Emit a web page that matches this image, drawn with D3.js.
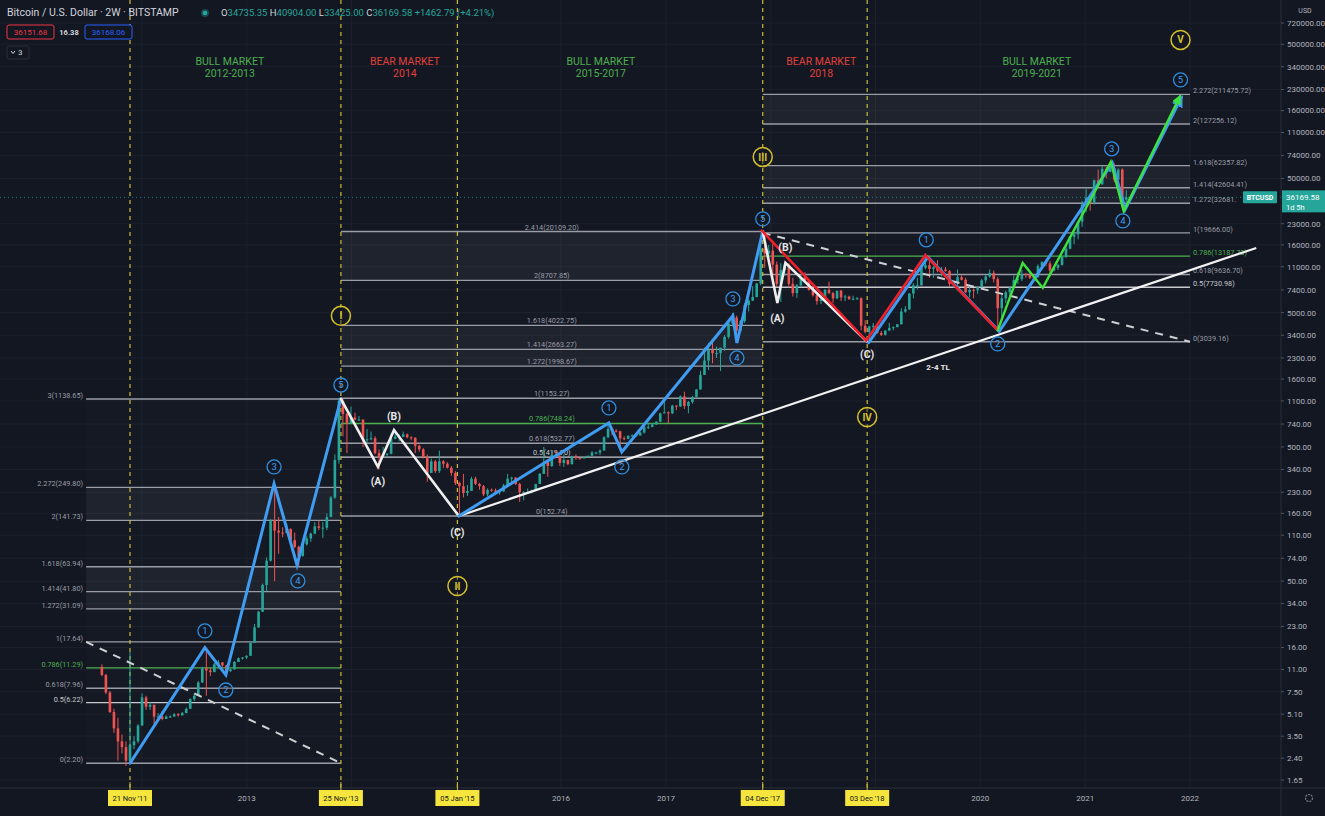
<!DOCTYPE html>
<html><head><meta charset="utf-8">
<script src="https://cdn.jsdelivr.net/npm/d3@7"></script>
<style>
html,body{margin:0;padding:0;background:#131722;}
svg{display:block;font-family:Roboto,"Open Sans",sans-serif;}
</style></head><body>
<svg id="c" width="1325" height="816"></svg>
<script>
// ---------------- DATA ----------------
const barStart = "2011-08-15";   // first 2W bar
const barStepDays = 14;
const firstOpen = 11.5;
const highs = [12.0,10.2,7.6,5.6,4.8,3.6,3.2,14.8,3.5,4.3,
 7.3,7.0,6.3,6.0,5.2,5.4,5.0,5.0,5.2,5.2,
 5.3,5.7,6.7,7.3,9.0,11.5,16.0,11.3,12.3,12.9,
 12.5,11.9,11.2,12.7,13.5,13.6,14.0,17.5,24,30,
 48,75,145,266,150,126,135,124,115,92,
 98,108,115,138,140,138,160,215,440,1163,
 1150,900,1000,900,850,800,680,650,600,480,
 500,450,630,670,620,650,630,600,590,520,
 490,440,410,400,470,400,385,360,330,275,
 315,260,300,300,270,260,245,245,245,235,
 265,315,300,298,270,235,245,240,265,320,
 500,390,465,470,460,440,400,430,440,420,
 425,430,465,460,480,600,760,700,680,660,
 600,610,620,615,645,725,740,755,780,900,
 1150,920,1030,1020,1210,1290,1100,1200,1350,1850,
 2750,2980,3000,2800,2650,3400,4400,4980,4750,4400,
 5900,6300,7900,8300,17200,19666,16000,17200,12000,11700,
 11500,11700,9100,8200,9700,10000,8900,7800,6800,6800,
 7500,8500,7150,7200,7400,6800,6700,6700,6550,6500,
 4400,4000,4200,4100,3650,3700,4200,3950,4100,5400,
 5600,7000,8300,9100,11000,13880,13200,11100,12300,10950,
 10950,10400,8600,10500,9500,9100,7900,7600,7700,8900,
 9600,10500,10300,9200,7000,7300,7800,9450,10000,10400,
 9900,9800,9450,11450,12100,12450,12100,11200,11600,13200,
 15900,18500,19900,24000,34000,42000,38000,49000,58300,61800,
 61000,60200,64900,59500,59500,40904.00];
const lows = [9.8,7.2,5.2,3.7,2.3,2.6,2.1,2.2,2.8,3.1,
 4.2,5.5,5.5,4.3,4.7,4.6,4.7,4.8,4.9,4.9,
 5.0,5.2,5.6,6.4,7.0,8.7,7.0,9.8,10.5,11.9,
 11.5,10.2,10.5,11.0,12.5,13.0,13.2,13.9,17.3,22.5,
 29.5,42,70,50,80,106,115,98,88,65,
 76,92,98,112,120,105,120,150,205,375,
 600,450,740,790,780,500,530,560,440,340,
 420,420,440,570,550,590,580,560,450,460,
 410,275,320,320,320,350,345,305,260,152,
 210,215,235,260,240,215,215,232,228,220,
 232,252,270,260,195,200,225,225,235,265,
 315,300,355,410,360,355,365,370,400,400,
 410,415,430,440,435,470,580,610,640,470,
 560,570,595,595,605,630,680,700,730,770,
 890,750,880,940,995,960,890,1050,1170,1340,
 1720,1870,2100,2300,1840,2600,3200,3950,2980,3600,
 4200,5100,6100,6500,8000,10800,12500,9200,7800,6000,
 9400,7700,6600,6450,7900,8700,7300,6600,5750,5800,
 6100,6900,5900,6300,6100,6100,6250,6200,6250,3700,
 3500,3150,3550,3480,3350,3370,3650,3700,3900,4100,
 5000,5250,6400,7450,7950,10500,9100,9100,10000,9350,
 10100,7800,7700,7300,8700,7000,6500,6400,6900,7700,
 8250,9100,8400,3850,4450,5900,6500,7600,8200,8600,
 9100,8900,9000,9100,10950,11100,9850,10150,10400,11200,
 12800,14800,16200,17600,21800,28000,28800,32000,45000,45000,
 50300,55800,47000,48800,30000,33425.00];
const closes = [10.0,7.4,5.3,4.0,3.2,2.9,2.3,3.0,3.2,4.2,
 6.8,5.8,6.0,4.9,4.9,4.7,4.9,4.9,5.1,5.0,
 5.2,5.6,6.6,7.0,8.8,11.2,10.8,10.5,12.0,12.4,
 11.8,10.7,11.0,12.5,13.3,13.5,13.9,17.4,22.6,29.6,
 46.8,71,142,119,115,114,122,101,90,77,
 94,104,113,128,125,125,150,210,400,1100,
 880,750,830,800,800,560,570,580,450,420,
 445,445,575,595,595,620,590,585,510,480,
 420,320,390,330,390,375,350,320,270,255,
 227,235,290,265,255,222,240,237,230,233,
 258,290,295,265,230,230,230,237,265,315,
 385,360,435,425,380,400,372,425,415,410,
 420,430,455,455,470,590,680,660,655,580,
 575,605,610,610,640,700,705,735,770,890,
 905,890,1015,1000,1190,1010,1080,1180,1340,1720,
 2200,2640,2500,2500,2750,3300,4150,4600,3680,4340,
 5700,6150,6550,8250,15000,13800,14500,11400,8200,10400,
 11400,8200,7000,8000,9250,8700,7400,6750,6100,6280,
 7400,7000,6400,7300,6500,6600,6300,6350,6400,4000,
 3600,3950,4000,3530,3420,3680,3850,3900,4100,5100,
 5300,6950,8000,8000,10800,11300,10600,10900,10300,10500,
 10200,8200,8300,9200,8800,7100,7400,7350,7750,8700,
 9300,9900,8900,5400,6400,7100,7700,8750,8900,9700,
 9650,9100,9200,11100,11900,11650,10300,10800,11350,13050,
 15000,18400,19200,23800,32000,36000,33100,48500,45200,59000,
 55900,59800,49000,58200,34735.35,36169.58];

// price axis ticks and time axis ticks
const priceTicks = [720000,500000,340000,230000,160000,110000,74000,50000,23000,16000,11000,7400,5000,3400,2300,1600,1100,740,500,340,230,160,110,74,50,34,23,16,11,7.5,5.1,3.5,2.4,1.65];
const yearGrid = ["2012","2013","2014","2015","2016","2017","2018","2019","2020","2021","2022"];
const yearLabels = ["2013","2016","2017","2020","2021","2022"];
const markerDates = ["2011-11-21","2013-11-25","2015-01-05","2017-12-04","2018-12-03"];
const markerLabels = ["21 Nov '11","25 Nov '13","05 Jan '15","04 Dec '17","03 Dec '18"];

// Fibonacci tools
const fib1Levels = [0,0.5,0.618,0.786,1,1.272,1.414,1.618,2,2.272,3];
const fib1Prices = [2.20,6.22,7.96,11.29,17.64,31.09,41.80,63.94,141.73,249.80,1138.65];
const fib1Span = ["2011-06-21","2013-11-25"];
const fib2Levels = [0,0.5,0.618,0.786,1,1.272,1.414,1.618,2,2.414];
const fib2Prices = [152.74,419.70,532.77,748.24,1153.27,1998.67,2663.27,4022.75,8707.85,20109.20];
const fib2Span = ["2013-11-25","2017-12-04"];
const fib3Levels = [0,0.5,0.618,0.786,1,1.272,1.414,1.618,2,2.272];
const fib3Prices = [3039.16,7730.98,9636.70,13187.73,19666.00,32681.93,42604.41,62357.82,127256.12,211475.72];
const fib3Span = ["2017-12-04","2022-01-01"];
const fib1Trend = [["2011-06-21",17.64],["2013-11-25",2.20]];
const fib3Trend = [["2017-12-04",19666.00],["2022-01-01",3039.16]];

// Elliott wave paths [date, price]
const cycle1 = [["2011-11-21",2.2],["2012-08-08",16],["2012-10-20",10],["2013-04-06",266],["2013-06-25",66],["2013-11-25",1138.65]];
const corr2014 = [["2013-11-25",1138.65],["2014-04-03",355],["2014-05-29",669],["2015-01-10",152.74]];
const cycle3 = [["2015-01-10",152.74],["2016-06-16",754],["2016-07-31",459],["2017-08-22",4730],["2017-09-05",2975],["2017-12-04",20109.2]];
const corr2018 = [["2017-12-04",20109.2],["2018-01-24",5912],["2018-02-21",11750],["2018-12-03",3039.16]];
const red2018 = [["2017-12-04",20109.2],["2018-12-03",3039.16],["2019-06-27",13187.73],["2020-03-02",3700]];
const cycle5 = [["2018-12-03",3039.16],["2019-06-27",13187.73],["2020-03-02",3700],["2021-03-31",66400],["2021-05-15",30000],["2021-11-27",205000]];
const green2020 = [["2020-03-02",3700],["2020-05-28",11750],["2020-08-06",7650],["2021-03-31",66400],["2021-05-15",28500],["2021-11-27",205000]];
const trend24 = [["2015-01-10",152.74],["2022-08-20",15190]];

const waveNums = [
 ["1","2012-08-08",21.3],["2","2012-10-20",7.73],["3","2013-04-06",355],["4","2013-06-28",50.2],["5","2013-11-25",1447],
 ["1","2016-06-16",976],["2","2016-07-31",355],["3","2017-08-22",6331],["4","2017-09-05",2302],["5","2017-12-04",24980],
 ["1","2019-06-27",17440],["2","2020-03-02",2927],["3","2021-04-03",83080],["4","2021-05-12",24140],["5","2021-11-29",271300]];
const cycleNums = [["I","2013-11-25",4736],["II","2015-01-05",46],["III","2017-12-04",72390],["IV","2018-12-03",836],["V","2021-11-29",538900]];
const abcLabels = [["(A)","2014-04-03",279],["(B)","2014-05-29",850],["(C)","2015-01-05",116],
 ["(A)","2018-01-24",4575],["(B)","2018-02-21",15470],["(C)","2018-12-03",2465]];
const tlLabel = ["2-4 TL","2019-08-07",1972];
const marketLabels = [["BULL MARKET","2012-2013","2012-11-03","bull"],["BEAR MARKET","2014","2014-07-06","bear"],
 ["BULL MARKET","2015-2017","2016-05-19","bull"],["BEAR MARKET","2018","2018-06-26","bear"],["BULL MARKET","2019-2021","2020-07-16","bull"]];
const lastPrice = 36169.58;

// ---------------- CHART ----------------
const W=1325,H=816,PR=1281,PB=788;
const P = s => new Date(s+"T00:00:00Z");
const svg = d3.select("#c");
svg.append("rect").attr("width",W).attr("height",H).attr("fill","#131722");
const x = d3.scaleUtc().domain([P("2011-11-21"),P("2022-01-01")]).range([130,1190]);
const y = d3.scaleLog().domain([1.65,720000]).range([780,23]);
const BTC_BOX_X = 1243, BTC_BOX_W = 34;

const defs = svg.append("defs");
defs.append("clipPath").attr("id","plot").append("rect").attr("x",0).attr("y",0).attr("width",PR).attr("height",PB);
function marker(id,color){
  defs.append("marker").attr("id",id).attr("viewBox","0 0 10 10").attr("refX",8).attr("refY",5)
   .attr("markerWidth",4).attr("markerHeight",4).attr("orient","auto")
   .append("path").attr("d","M0,0 L10,5 L0,10 z").attr("fill",color);
}
marker("arB","#3f9cf0"); marker("arG","#3de23d");

const g = svg.append("g").attr("clip-path","url(#plot)");

// grid
g.selectAll(".hg").data(priceTicks).join("line").attr("x1",0).attr("x2",PR)
 .attr("y1",d=>y(d)).attr("y2",d=>y(d)).attr("stroke","#1c202c").attr("stroke-width",1);
g.selectAll(".vg").data(yearGrid).join("line").attr("y1",0).attr("y2",PB)
 .attr("x1",d=>x(P(d+"-01-01"))).attr("x2",d=>x(P(d+"-01-01"))).attr("stroke","#1c202c");

// fib tools
function fib(levels,prices,span,labelPos){
  const x0=x(P(span[0])), x1=x(P(span[1]));
  const fg=g.append("g");
  for(let i=0;i<levels.length-1;i++){
    const lo=levels[i], hi=levels[i+1];
    const light = (lo===2) || (lo>=1.272 && hi<=1.618);
    fg.append("rect").attr("x",x0).attr("width",x1-x0)
      .attr("y",y(prices[i+1])).attr("height",y(prices[i])-y(prices[i+1]))
      .attr("fill","#ffffff").attr("fill-opacity",light?0.055:0.012);
  }
  levels.forEach((lv,i)=>{
    const col = lv===0.786?"#4caf50":(lv===0.5?"#c8cad0":"#9a9da6");
    fg.append("line").attr("x1",x0).attr("x2",x1).attr("y1",y(prices[i])).attr("y2",y(prices[i]))
      .attr("stroke",col).attr("stroke-width",1.4);
    let label = `${lv}(${prices[i].toFixed(2)})`;
    const t=fg.append("text").attr("font-size",7.3).attr("fill",col);
    if(labelPos==="left") t.attr("x",x0-3).attr("y",y(prices[i])-1).attr("text-anchor","end");
    else if(labelPos==="center") t.attr("x",(x0+x1)/2).attr("y",y(prices[i])-2).attr("text-anchor","middle");
    else {
      t.attr("x",x1+3).attr("y",y(prices[i])-1);
      // the label on the last-price row is cut off by the BTCUSD tag in the chart
      if(Math.abs(y(prices[i])-y(lastPrice))<8) label = label.slice(0,12);
    }
    t.text(label);
  });
}
fib(fib1Levels,fib1Prices,fib1Span,"left");
fib(fib2Levels,fib2Prices,fib2Span,"center");
fib(fib3Levels,fib3Prices,fib3Span,"right");

// vertical dashed markers
g.selectAll(".vm").data(markerDates).join("line").attr("x1",d=>x(P(d))).attr("x2",d=>x(P(d)))
 .attr("y1",0).attr("y2",PB).attr("stroke","#cdbb3a").attr("stroke-width",1.2).attr("stroke-dasharray","4,4");

// current price line
g.append("line").attr("x1",0).attr("x2",PR).attr("y1",y(lastPrice)).attr("y2",y(lastPrice))
 .attr("stroke","#26a69a").attr("stroke-width",1).attr("stroke-dasharray","1,3").attr("opacity",0.7);

// candles
const bars = closes.map((c,i)=>({d:d3.utcDay.offset(P(barStart),barStepDays*i),o:i===0?firstOpen:closes[i-1],h:highs[i],l:lows[i],c}));
const cg = g.append("g");
cg.selectAll("line").data(bars).join("line").attr("x1",d=>x(d.d)).attr("x2",d=>x(d.d))
 .attr("y1",d=>y(d.h)).attr("y2",d=>y(d.l)).attr("stroke",d=>d.c>=d.o?"#26a69a":"#ef5350").attr("stroke-width",1);
cg.selectAll("rect").data(bars).join("rect").attr("x",d=>x(d.d)-1.3).attr("width",2.6)
 .attr("y",d=>y(Math.max(d.o,d.c))).attr("height",d=>Math.max(1,Math.abs(y(d.o)-y(d.c))))
 .attr("fill",d=>d.c>=d.o?"#26a69a":"#ef5350");

// lines
const line = d3.line().x(d=>x(P(d[0]))).y(d=>y(d[1]));
g.append("path").attr("d",line(fib1Trend)).attr("fill","none").attr("stroke","#cfd0d4").attr("stroke-width",2).attr("stroke-dasharray","8,7");
g.append("path").attr("d",line(fib3Trend)).attr("fill","none").attr("stroke","#cfd0d4").attr("stroke-width",2).attr("stroke-dasharray","8,7");
g.append("path").attr("d",line(trend24)).attr("fill","none").attr("stroke","#f2f2f2").attr("stroke-width",2.2);

function wave(data,color,w,mk,dx,dy){
  const p=g.append("path").attr("d",line(data)).attr("fill","none").attr("stroke",color)
   .attr("stroke-width",w).attr("stroke-linejoin","miter").attr("stroke-linecap","round");
  if(mk) p.attr("marker-end",`url(#${mk})`);
  if(dx||dy) p.attr("transform",`translate(${dx||0},${dy||0})`);
}
wave(cycle1,"#3f9cf0",3);
wave(corr2014,"#eeeeee",2.6);
wave(cycle3,"#3f9cf0",3);
wave(corr2018,"#eeeeee",2.6);
wave(cycle5,"#3f9cf0",3,"arB",1.5,1);
wave(red2018,"#f0202a",2.6,null,-1,-1);
wave(green2020,"#3de23d",2.4,"arG");

// wave labels
const lg = svg.append("g");
waveNums.forEach(([t,d,p])=>{
  lg.append("circle").attr("cx",x(P(d))).attr("cy",y(p)).attr("r",7).attr("fill","#131722").attr("fill-opacity",0.3)
    .attr("stroke","#2f8fe0").attr("stroke-width",1.3);
  lg.append("text").attr("x",x(P(d))).attr("y",y(p)).attr("dy","0.36em").attr("text-anchor","middle")
    .attr("font-size",9.5).attr("fill","#3f9cf0").text(t);
});
cycleNums.forEach(([t,d,p])=>{
  lg.append("circle").attr("cx",x(P(d))).attr("cy",y(p)).attr("r",9.5).attr("fill","#131722").attr("fill-opacity",0.4)
    .attr("stroke","#d4c12a").attr("stroke-width",1.5);
  lg.append("text").attr("x",x(P(d))).attr("y",y(p)).attr("dy","0.36em").attr("text-anchor","middle")
    .attr("font-size",10).attr("font-weight","bold").attr("fill","#d4c12a").text(t);
});
abcLabels.forEach(([t,d,p])=>{
  lg.append("text").attr("x",x(P(d))).attr("y",y(p)).attr("dy","0.36em").attr("text-anchor","middle")
    .attr("font-size",10.5).attr("font-weight","bold").attr("fill","#e6e6e6").text(t);
});
lg.append("text").attr("x",x(P(tlLabel[1]))).attr("y",y(tlLabel[2])).attr("dy","0.36em").attr("text-anchor","middle")
  .attr("font-size",8).attr("font-weight","bold").attr("fill","#e6e6e6").text(tlLabel[0]);
marketLabels.forEach(([a,b,d,k])=>{
  const c = k==="bull"?"#4caf50":"#e0403c";
  lg.append("text").attr("x",x(P(d))).attr("y",65).attr("text-anchor","middle").attr("font-size",10.5).attr("fill",c).text(a);
  lg.append("text").attr("x",x(P(d))).attr("y",77).attr("text-anchor","middle").attr("font-size",10.5).attr("fill",c).text(b);
});

// ---- axes ----
const ax = svg.append("g");
ax.append("rect").attr("x",PR).attr("y",0).attr("width",W-PR).attr("height",H).attr("fill","#131722");
ax.append("rect").attr("x",0).attr("y",PB).attr("width",W).attr("height",H-PB).attr("fill","#131722");
ax.append("line").attr("x1",PR).attr("x2",PR).attr("y1",0).attr("y2",H).attr("stroke","#2a2e39");
ax.append("line").attr("x1",0).attr("x2",W).attr("y1",PB).attr("y2",PB).attr("stroke","#2a2e39");
ax.selectAll(".pt").data(priceTicks).join("text").attr("x",PR+6).attr("y",d=>y(d)).attr("dy","0.35em")
  .attr("font-size",8).attr("fill","#b2b5be").text(d=>d.toFixed(2));
ax.selectAll(".ptk").data(priceTicks).join("line").attr("x1",PR).attr("x2",PR+3).attr("y1",d=>y(d)).attr("y2",d=>y(d)).attr("stroke","#50535e");
ax.append("text").attr("x",1305).attr("y",13).attr("text-anchor","middle").attr("font-size",7).attr("fill","#b2b5be").text("USD");
ax.selectAll(".yt").data(yearLabels).join("text").attr("x",d=>x(P(d+"-01-01"))).attr("y",801)
  .attr("text-anchor","middle").attr("font-size",8).attr("fill","#b2b5be").text(d=>d);
markerDates.forEach((d,i)=>{
  const cx=x(P(d));
  ax.append("line").attr("x1",cx).attr("x2",cx).attr("y1",PB-6).attr("y2",PB+2).attr("stroke","#cdbb3a");
  ax.append("rect").attr("x",cx-22).attr("y",790).attr("width",44).attr("height",16).attr("fill","#f5e53c");
  ax.append("text").attr("x",cx).attr("y",798).attr("dy","0.35em").attr("text-anchor","middle")
    .attr("font-size",7.5).attr("fill","#131722").text(markerLabels[i]);
});
// gear
ax.append("circle").attr("cx",1309).attr("cy",798).attr("r",3.5).attr("fill","none").attr("stroke","#787b86").attr("stroke-width",1.2).attr("stroke-dasharray","2,1");
// last price labels
const ly=y(lastPrice);
ax.append("rect").attr("x",BTC_BOX_X).attr("y",ly-6).attr("width",BTC_BOX_W).attr("height",12).attr("rx",1).attr("fill","#26a69a");
ax.append("text").attr("x",BTC_BOX_X+BTC_BOX_W/2).attr("y",ly).attr("dy","0.35em").attr("text-anchor","middle").attr("font-size",7).attr("font-weight","bold").attr("fill","#fff").text("BTCUSD");
ax.append("rect").attr("x",PR+1).attr("y",ly-7).attr("width",W-PR).attr("height",22).attr("fill","#26a69a");
ax.append("text").attr("x",PR+5).attr("y",ly).attr("dy","0.35em").attr("font-size",8).attr("fill","#fff").text(lastPrice.toFixed(2));
ax.append("text").attr("x",PR+5).attr("y",ly+10).attr("dy","0.35em").attr("font-size",7.5).attr("fill","#fff").text("1d 5h");

// header
const hd = svg.append("g");
hd.append("text").attr("x",7).attr("y",16).attr("font-size",10.5).attr("fill","#d1d4dc").text("Bitcoin / U.S. Dollar · 2W · BITSTAMP");
hd.append("circle").attr("cx",205).attr("cy",13).attr("r",4).attr("fill","#26a69a").attr("opacity",0.35);
hd.append("circle").attr("cx",205).attr("cy",13).attr("r",2.3).attr("fill","#26a69a");
const ohlc = hd.append("text").attr("x",221).attr("y",16).attr("font-size",9.5);
[["O","34735.35"],[" H","40904.00"],[" L","33425.00"],[" C","36169.58"],[" ","+1462.79 (+4.21%)"]].forEach(([a,b])=>{
  ohlc.append("tspan").attr("fill","#d1d4dc").text(a);
  ohlc.append("tspan").attr("fill","#26a69a").text(b);
});
hd.append("rect").attr("x",7).attr("y",25).attr("width",47).attr("height",14).attr("rx",2).attr("fill","#131722").attr("stroke","#f23645");
hd.append("text").attr("x",30.5).attr("y",32).attr("dy","0.35em").attr("text-anchor","middle").attr("font-size",8).attr("fill","#f23645").text("36151.68");
hd.append("text").attr("x",69).attr("y",32).attr("dy","0.35em").attr("text-anchor","middle").attr("font-size",7.5).attr("font-weight","bold").attr("fill","#d1d4dc").text("16.38");
hd.append("rect").attr("x",85).attr("y",25).attr("width",47).attr("height",14).attr("rx",2).attr("fill","#131722").attr("stroke","#2962ff");
hd.append("text").attr("x",108.5).attr("y",32).attr("dy","0.35em").attr("text-anchor","middle").attr("font-size",8).attr("fill","#2962ff").text("36168.06");
hd.append("rect").attr("x",7).attr("y",46).attr("width",22).attr("height",13).attr("rx",2).attr("fill","#131722").attr("stroke","#2a2e39");
hd.append("path").attr("d","M11,51 L13,53.5 L15,51").attr("fill","none").attr("stroke","#d1d4dc").attr("stroke-width",1);
hd.append("text").attr("x",18).attr("y",52.5).attr("dy","0.35em").attr("font-size",8).attr("fill","#d1d4dc").text("3");
</script>
</body></html>
